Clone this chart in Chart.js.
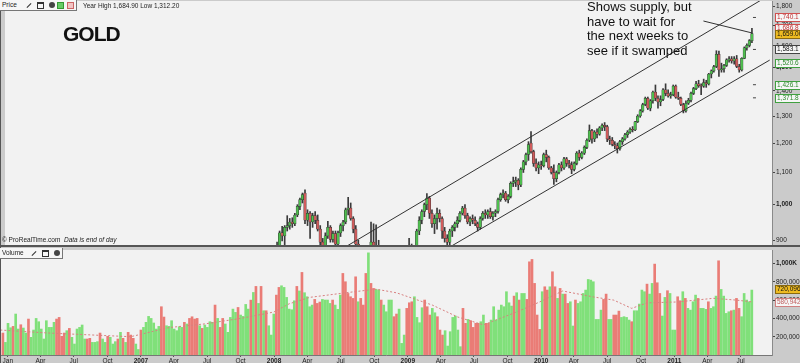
<!DOCTYPE html>
<html>
<head>
<meta charset="utf-8">
<script src="https://cdn.jsdelivr.net/npm/chart.js@4.4.0/dist/chart.umd.min.js"></script>
<style>
  body { margin: 0; background: #cbcbcb; }
  #wrap { position: relative; width: 800px; height: 363px; overflow: hidden; font-family: 'Liberation Sans', Arial, sans-serif; }
  canvas { position: absolute; left: 0; }
  .txt { position: absolute; white-space: nowrap; color: #222; z-index: 2; }
  .tool { position: absolute; left: 0; height: 10px; background: #f6f6f6; border-right: 1px solid #777; border-bottom: 1px solid #777; z-index: 2; }
  .tool span { position: absolute; top: 2px; }
  .ic-win { width: 5px; height: 4px; border: 1px solid #333; border-top-width: 2px; }
  .ic-x { width: 6px; height: 6px; border-radius: 3px; background: #444; }
  .ic-up { width: 5px; height: 5px; background: #6c6; border: 1px solid #393; }
  .ic-dn { width: 5px; height: 5px; background: #f2c4c4; border: 1px solid #c66; }
  .ic-wr { width: 6px; height: 1px; background: #333; transform: rotate(-45deg); top: 5px !important; }
</style>
</head>
<body>
<div id="wrap">
  <canvas id="vol" width="800" height="117" style="top:246px"></canvas>
  <canvas id="price" width="800" height="254" style="top:-4px"></canvas>

  <div class="tool" style="top:0;width:76px;">
    <span class="txt" style="left:2px;top:1px;font-size:6.5px;">Price</span>
    <span class="ic-wr" style="left:26px;"></span>
    <span class="ic-win" style="left:37px;"></span>
    <span class="ic-x" style="left:49px;"></span>
    <span class="ic-up" style="left:57px;"></span>
    <span class="ic-dn" style="left:67px;"></span>
  </div>
  <div class="txt" style="left:83px;top:2px;font-size:6.5px;">Year High 1,684.90 Low 1,312.20</div>
  <div class="txt" style="left:63px;top:22px;font-size:21px;font-weight:bold;letter-spacing:-1px;color:#111;">GOLD</div>
  <div class="txt" style="left:587px;top:0px;font-size:13px;line-height:14.5px;color:#111;">Shows supply, but<br>have to wait for<br>the next weeks to<br>see if it swamped</div>
  <div class="txt" style="left:2px;top:236px;font-size:6.5px;">© ProRealTime.com&nbsp;&nbsp;<i>Data is end of day</i></div>

  <div class="tool" style="top:248px;width:62px;">
    <span class="txt" style="left:2px;top:1px;font-size:6.5px;">Volume</span>
    <span class="ic-wr" style="left:31px;"></span>
    <span class="ic-win" style="left:42px;"></span>
    <span class="ic-x" style="left:54px;"></span>
  </div>
</div>

<script>
// weekly bars, index 0 = week of 19 Dec 2005, 293 = week of 1 Aug 2011
const qtrPos = [1.9, 14.7, 27.7, 40.9, 54.0, 66.9, 79.9, 93.0, 106.1, 119.1, 132.1, 145.3,
  158.4, 171.3, 184.3, 197.4, 210.6, 223.4, 236.4, 249.6, 262.7, 275.6, 288.6];
const qtrLabels = ['Jan', 'Apr', 'Jul', 'Oct', '2007', 'Apr', 'Jul', 'Oct', '2008', 'Apr', 'Jul', 'Oct',
  '2009', 'Apr', 'Jul', 'Oct', '2010', 'Apr', 'Jul', 'Oct', '2011', 'Apr', 'Jul'];

const priceTicks = [900, 1000, 1100, 1200, 1300, 1400, 1500, 1600, 1700, 1800];
const volTicks = [200, 400, 600, 800, 1000]; // thousands

// candles start at week 105
const candleStart = 105;
const opens = [
  812, 842, 885, 920, 912, 935, 940, 950, 945, 970,
  995, 1015, 1035, 955, 975, 950, 968, 955, 930, 895,
  880, 912, 935, 902, 918, 890, 920, 940, 950, 985,
  990, 960, 930, 890, 850, 800, 830, 810, 780, 895,
  880, 865, 830, 780, 730, 725, 740, 745, 800, 815,
  760, 825, 860, 870, 882, 855, 845, 925, 955, 980,
  1000, 1020, 975, 945, 960, 975, 960, 925, 905, 895,
  925, 935, 945, 955, 975, 990, 968, 950, 960, 955,
  945, 935, 960, 975, 970, 980, 965, 975, 980, 1015,
  1030, 1035, 1015, 1025, 1065, 1070, 1075, 1060, 1110, 1135,
  1160, 1200, 1170, 1130, 1115, 1125, 1122, 1160, 1150, 1115,
  1100, 1080, 1100, 1125, 1115, 1145, 1130, 1125, 1110, 1130,
  1165, 1150, 1165, 1185, 1210, 1245, 1215, 1240, 1232, 1255,
  1265, 1260, 1215, 1210, 1195, 1190, 1180, 1205, 1215, 1230,
  1240, 1250, 1248, 1278, 1300, 1320, 1345, 1370, 1330, 1360,
  1395, 1370, 1355, 1365, 1405, 1390, 1380, 1385, 1420, 1375,
  1370, 1345, 1320, 1350, 1362, 1390, 1410, 1430, 1422, 1420,
  1435, 1430, 1472, 1486, 1505, 1560, 1490, 1495, 1510, 1535,
  1540, 1530, 1540, 1505, 1490, 1542, 1590, 1602, 1625];
const highs = [
  845, 895, 925, 938, 940, 968, 960, 962, 975, 1000,
  1020, 1035, 1045, 985, 980, 975, 980, 970, 940, 905,
  920, 952, 940, 925, 925, 925, 945, 955, 990, 1022,
  1005, 965, 940, 900, 860, 840, 845, 825, 950, 945,
  942, 900, 845, 790, 760, 765, 760, 810, 825, 820,
  830, 880, 880, 905, 890, 870, 930, 965, 985, 1005,
  1033, 1025, 985, 970, 990, 985, 965, 935, 915, 930,
  940, 950, 965, 980, 995, 1000, 975, 965, 970, 965,
  950, 965, 980, 985, 985, 990, 980, 985, 1020, 1035,
  1045, 1040, 1030, 1070, 1085, 1085, 1080, 1115, 1140, 1165,
  1205, 1241, 1175, 1145, 1135, 1138, 1165, 1175, 1155, 1120,
  1125, 1105, 1130, 1135, 1150, 1150, 1140, 1135, 1135, 1170,
  1175, 1170, 1190, 1215, 1266, 1250, 1245, 1252, 1260, 1270,
  1275, 1265, 1225, 1220, 1205, 1200, 1210, 1220, 1235, 1245,
  1255, 1260, 1280, 1305, 1325, 1350, 1375, 1375, 1365, 1400,
  1425, 1380, 1380, 1410, 1430, 1405, 1395, 1425, 1425, 1395,
  1375, 1350, 1360, 1370, 1395, 1415, 1440, 1445, 1430, 1450,
  1445, 1475, 1490, 1510, 1577, 1575, 1520, 1515, 1540, 1550,
  1550, 1550, 1555, 1515, 1545, 1595, 1610, 1630, 1685];
const lows = [
  808, 836, 880, 898, 885, 925, 930, 935, 940, 965,
  985, 1005, 945, 940, 905, 935, 945, 925, 885, 860,
  875, 905, 895, 895, 880, 885, 910, 925, 945, 970,
  955, 920, 880, 840, 780, 790, 800, 760, 760, 870,
  855, 820, 760, 681, 700, 710, 705, 740, 770, 750,
  755, 820, 835, 860, 840, 805, 835, 915, 945, 965,
  985, 960, 935, 918, 930, 950, 905, 895, 885, 885,
  910, 925, 935, 950, 970, 960, 945, 940, 945, 940,
  925, 930, 955, 960, 960, 960, 955, 965, 975, 1010,
  1020, 1010, 1005, 1020, 1055, 1055, 1045, 1055, 1100, 1125,
  1140, 1165, 1120, 1105, 1096, 1110, 1118, 1135, 1110, 1095,
  1062, 1070, 1095, 1105, 1110, 1120, 1115, 1096, 1105, 1125,
  1140, 1145, 1160, 1180, 1205, 1200, 1205, 1218, 1228, 1245,
  1245, 1205, 1195, 1190, 1180, 1165, 1175, 1195, 1210, 1220,
  1235, 1240, 1245, 1275, 1295, 1315, 1340, 1325, 1320, 1350,
  1360, 1330, 1340, 1360, 1380, 1375, 1370, 1380, 1370, 1365,
  1340, 1312, 1315, 1345, 1355, 1385, 1405, 1415, 1385, 1415,
  1415, 1425, 1455, 1480, 1500, 1462, 1480, 1480, 1505, 1525,
  1520, 1515, 1500, 1480, 1485, 1540, 1580, 1595, 1615];
const closes = [
  842, 885, 920, 912, 935, 940, 950, 945, 970, 995,
  1015, 1030, 955, 975, 950, 968, 955, 930, 895, 880,
  912, 935, 902, 918, 890, 920, 940, 950, 985, 990,
  960, 930, 890, 850, 800, 830, 810, 770, 895, 880,
  865, 830, 780, 730, 725, 740, 745, 800, 815, 760,
  825, 860, 870, 882, 855, 840, 925, 955, 980, 1000,
  1020, 975, 945, 960, 975, 960, 925, 905, 895, 925,
  935, 945, 955, 975, 990, 968, 950, 960, 955, 945,
  935, 960, 975, 970, 980, 965, 975, 980, 1015, 1030,
  1035, 1015, 1025, 1065, 1070, 1075, 1060, 1110, 1135, 1160,
  1195, 1170, 1130, 1115, 1125, 1122, 1160, 1150, 1115, 1100,
  1080, 1100, 1125, 1115, 1145, 1130, 1125, 1110, 1130, 1165,
  1150, 1165, 1185, 1210, 1245, 1215, 1240, 1232, 1255, 1265,
  1260, 1215, 1210, 1195, 1190, 1180, 1205, 1215, 1230, 1240,
  1250, 1248, 1278, 1300, 1320, 1345, 1370, 1330, 1360, 1395,
  1370, 1355, 1365, 1405, 1390, 1380, 1385, 1420, 1375, 1370,
  1345, 1320, 1350, 1362, 1390, 1410, 1430, 1422, 1420, 1435,
  1430, 1472, 1486, 1505, 1560, 1490, 1495, 1510, 1535, 1540,
  1530, 1540, 1505, 1490, 1542, 1590, 1602, 1625, 1659];

// weekly volume in thousands, from week 0
const volK = [
  240, 138, 346, 298, 313, 448, 284, 331, 295, 240,
  393, 193, 273, 400, 364, 284, 175, 375, 302, 302,
  357, 393, 411, 204, 240, 266, 291, 193, 120, 284,
  302, 328, 175, 175, 182, 138, 138, 146, 240, 175,
  138, 204, 193, 120, 146, 175, 248, 182, 138, 248,
  218, 182, 120, 60, 273, 302, 357, 422, 400, 350,
  284, 313, 528, 415, 320, 313, 375, 284, 266, 309,
  302, 357, 339, 400, 418, 393, 400, 320, 291, 328,
  302, 364, 357, 546, 400, 302, 400, 339, 248, 411,
  502, 466, 520, 437, 422, 553, 502, 600, 684, 750,
  564, 750, 484, 484, 320, 218, 448, 655, 739, 757,
  739, 630, 502, 495, 593, 750, 700,
  903, 681, 637, 528, 546, 608, 564, 579, 608, 601,
  601, 564, 601, 546, 499, 655, 892, 801, 673, 637,
  619, 855, 582, 619, 546, 892, 1117, 783, 728, 717,
  710, 601, 546, 473, 601, 601, 419, 448, 502, 127,
  218, 510, 571, 582, 637, 411, 353, 517, 601, 528,
  437, 510, 462, 419, 273, 218, 266, 98, 255, 411,
  426, 273, 91, 510, 346, 389, 375, 302, 346, 346,
  364, 437, 346, 346, 382, 528, 382, 491, 546, 528,
  692, 571, 535, 644, 681, 601, 673, 673, 608, 1019,
  1045, 783, 437, 280, 692, 746, 710, 746, 910, 746,
  619, 728, 666, 666, 564, 582, 317, 601, 564, 582,
  673, 710, 826, 819, 801, 389, 389, 491, 608, 666,
  389, 389, 437, 437, 480, 411, 419, 411, 382, 364,
  484, 484, 557, 710, 692, 775, 666, 783, 994, 790,
  673, 426, 630, 703, 673, 273, 273, 637, 593, 692,
  619, 510, 491, 582, 655, 619, 510, 510, 499, 582,
  510, 528, 644, 1030, 717, 644, 455, 473, 484, 491,
  619, 510, 419, 673, 601, 582, 710];
// g = up week, r = down week
const volDir = (
  'rgggrggrgg' + 'rggggggggg' + 'grrrrgrggg' + 'gggrrgggrg' + 'grgggrgrgr' + 'rrggrggggg' +
  'ggrrgggggg' + 'grgrrrrgrg' + 'gggrgrrggg' + 'ggrggggrgr' + 'grgrgggrrg' + 'gggggrg' +
  'rggggrrrgg' + 'ggrgggrrrr' + 'rrgrrrgrrg' + 'grggggrrgg' + 'grrrggggrr' + 'rggrrrgggg' +
  'gggrrgrrrr' + 'ggrrgggggg' + 'gggrgrggrr' + 'rrrrgrrgrr' + 'grgrrggrgg' +
  'ggggggggrr' + 'ggrrrggggr' + 'gggggrggrr' + 'rggrgggrrg' + 'rggggrgggr' + 'gggrggggrg' +
  'rrggggg').split('');

// volume moving average (week, thousands)
const maWeek = [-1, 18, 38, 50, 65, 79, 93, 106, 112, 120, 134, 146, 154, 168,
  178, 188, 201, 210, 219, 231, 239, 246, 252, 264, 278, 287, 293];
const maK = [273, 240, 215, 200, 300, 340, 400, 470, 560, 630, 680, 720, 680, 546,
  415, 330, 470, 580, 700, 635, 600, 510, 570, 580, 620, 600, 581];

// hand drawn channel lines and pointer (week, price)
const upperWeek = [130, 300], upperPrice = [871, 1860];
const lowerWeek = [173.7, 300], lowerPrice = [881, 1534];
const pointerWeek = [273.9, 293.1], pointerPrice = [1722, 1662];

// axis value boxes
const priceMarks = [1740.1, 1686.8, 1659.0, 1583.1, 1520.6, 1426.1, 1371.8];
const priceMarkDigits = [1, 1, 2, 1, 1, 1, 1];
const pivotMarks = [1740.1, 1583.1, 1426.1, 1371.8];
const volMarks = [720.096, 580.942];

const FONT = "'Liberation Sans', Arial, sans-serif";
Chart.defaults.font.family = FONT;
Chart.defaults.animation = false;
Chart.defaults.plugins.legend.display = false;
Chart.defaults.plugins.tooltip.enabled = false;

const X_MIN = -1.135, X_MAX = 300.9;
const UP = '#4fbf4f', DOWN = '#d05c5c';
const VUP = '#80e07a', VDOWN = '#ea7c76';

const markStyle = [
  {fill: '#f6f6f6', stroke: '#d05050', color: '#c03030'},
  {fill: '#f6f6f6', stroke: '#d05050', color: '#c03030'},
  {fill: '#eebb22', stroke: '#8a6a10', color: '#111'},
  {fill: '#f6f6f6', stroke: '#444', color: '#111'},
  {fill: '#f6f6f6', stroke: '#40a040', color: '#2c8a2c'},
  {fill: '#f6f6f6', stroke: '#40a040', color: '#2c8a2c'},
  {fill: '#f6f6f6', stroke: '#40a040', color: '#2c8a2c'}
];
const volMarkStyle = [
  {fill: '#eebb22', stroke: '#8a6a10', color: '#111'},
  {fill: '#f6f6f6', stroke: '#d08080', color: '#c06060'}
];

const panelBg = {
  id: 'panelBg',
  beforeDraw(chart) {
    const {ctx, chartArea: a, width, height} = chart;
    ctx.save();
    ctx.fillStyle = '#cbcbcb';
    ctx.fillRect(0, 0, width, height);
    ctx.fillStyle = '#f2f2f2';
    ctx.fillRect(a.left, a.top, a.right - a.left, a.bottom - a.top);
    ctx.restore();
  }
};

function axisBoxes(values, texts, styles, order) {
  return {
    id: 'axisBoxes',
    afterDraw(chart) {
      const ctx = chart.ctx, sc = chart.scales.y, x0 = chart.chartArea.right + 3;
      ctx.save();
      ctx.font = '6.5px ' + FONT;
      ctx.textBaseline = 'middle';
      order.forEach(k => {
        const py = Math.round(sc.getPixelForValue(values[k]));
        const st = styles[k];
        ctx.fillStyle = st.fill;
        ctx.fillRect(x0, py - 4, 30, 9);
        ctx.strokeStyle = st.stroke;
        ctx.lineWidth = 1;
        ctx.strokeRect(x0 + 0.5, py - 3.5, 30, 8);
        ctx.fillStyle = st.color;
        ctx.fillText(texts[k], x0 + 2, py + 0.5);
      });
      ctx.restore();
    }
  };
}

function frame(bottomLine, topLine) {
  return {
    id: 'frame',
    afterDraw(chart) {
      const {ctx, chartArea: a, width, height} = chart;
      ctx.save();
      ctx.fillStyle = '#8a8a8a';
      ctx.fillRect(a.right, a.top, 1, a.bottom - a.top);
      ctx.fillStyle = '#555';
      ctx.fillRect(0, 0, 1, height);
      if (bottomLine) ctx.fillRect(0, a.bottom, width, 2);
      if (topLine) ctx.fillRect(0, 0, width, 1);
      ctx.restore();
    }
  };
}

function xAxis(show) {
  return {
    type: 'linear', min: X_MIN, max: X_MAX, offset: false, display: show,
    grid: {drawOnChartArea: false, tickLength: 2, tickColor: '#555', offset: false},
    border: {color: '#777'},
    afterBuildTicks: s => { s.ticks = qtrPos.map(v => ({value: v})); },
    afterFit: s => { s.height = show ? 8 : 0; s.paddingLeft = 0; s.paddingRight = 0; },
    ticks: {
      autoSkip: false, maxRotation: 0, padding: 0, color: '#222',
      callback: (v, k) => qtrLabels[k],
      font: c => ({size: 6.5, weight: /^\d/.test(qtrLabels[c.index] || '') ? 'bold' : 'normal'})
    }
  };
}

function line(weeks, values, opts) {
  return Object.assign({
    type: 'line',
    data: weeks.map((w, k) => ({x: w, y: values[k]})),
    borderColor: '#333', borderWidth: 1, pointRadius: 0, clip: 0, order: 0
  }, opts);
}

// ---- price panel
const wickData = lows.map((l, k) => ({x: candleStart + k, y: [l, highs[k]]}));
const bodyData = opens.map((o, k) => ({x: candleStart + k, y: [o, closes[k]]}));
const bodyColors = opens.map((o, k) => closes[k] >= o ? UP : DOWN);
const markTexts = priceMarks.map((v, k) => v.toLocaleString('en-US',
  {minimumFractionDigits: priceMarkDigits[k], maximumFractionDigits: priceMarkDigits[k]}));

new Chart(document.getElementById('price'), {
  type: 'bar',
  data: {
    datasets: [
      {data: wickData, backgroundColor: '#3a3a3a', barThickness: 1, grouped: false, order: 3, clip: 0},
      {data: bodyData, backgroundColor: bodyColors, borderColor: '#333', borderWidth: 0.5,
        borderSkipped: false, barThickness: 2.6, grouped: false, order: 2, clip: 0},
      line(upperWeek, upperPrice),
      line(lowerWeek, lowerPrice),
      line(pointerWeek, pointerPrice),
      {type: 'line', data: pivotMarks.map(v => ({x: 294, y: v})), showLine: false,
        pointStyle: 'line', pointRadius: 1.5, borderColor: '#444', borderWidth: 1, order: 0}
    ]
  },
  options: {
    responsive: false,
    layout: {padding: {top: 0, bottom: 2, left: 0, right: 0}},
    scales: {
      x: xAxis(false),
      y: {
        type: 'logarithmic', position: 'right', min: 887.5, max: 1827,
        afterBuildTicks: s => { s.ticks = priceTicks.map(v => ({value: v})); },
        afterFit: s => { s.width = 28; s.paddingTop = 0; s.paddingBottom = 0; },
        grid: {drawOnChartArea: false, tickLength: 3, tickColor: '#444'},
        border: {color: '#888'},
        ticks: {
          autoSkip: false, padding: 1, color: '#222',
          callback: v => v.toLocaleString('en-US'),
          font: c => ({size: 6.5, weight: c.tick && c.tick.value % 500 === 0 ? 'bold' : 'normal'})
        }
      }
    }
  },
  plugins: [panelBg, axisBoxes(priceMarks, markTexts, markStyle, [0, 1, 3, 4, 5, 6, 2]), frame(true, false)]
});

// ---- volume panel
const volTexts = volMarks.map(v => Math.round(v * 1000).toLocaleString('en-US'));

new Chart(document.getElementById('vol'), {
  type: 'bar',
  data: {
    datasets: [
      {data: volK.map((v, k) => ({x: k, y: v})), backgroundColor: volDir.map(d => d === 'g' ? VUP : VDOWN),
        barThickness: 2, grouped: false, order: 2, clip: 0},
      line(maWeek, maK, {borderColor: '#d88080', borderDash: [2, 2]})
    ]
  },
  options: {
    responsive: false,
    layout: {padding: {top: 2, bottom: 0, left: 0, right: 0}},
    scales: {
      x: xAxis(true),
      y: {
        type: 'linear', position: 'right', min: 0, max: 1170,
        afterBuildTicks: s => { s.ticks = volTicks.map(v => ({value: v})); },
        afterFit: s => { s.width = 28; s.paddingTop = 0; s.paddingBottom = 0; },
        grid: {drawOnChartArea: false, tickLength: 3, tickColor: '#444'},
        border: {color: '#888'},
        ticks: {
          autoSkip: false, padding: 1, color: '#222',
          callback: v => v >= 1000 ? (v / 1000).toFixed(0) + ',000K' : (v * 1000).toLocaleString('en-US'),
          font: c => ({size: 6.5, weight: c.tick && c.tick.value === 1000 ? 'bold' : 'normal'})
        }
      }
    }
  },
  plugins: [panelBg, axisBoxes(volMarks, volTexts, volMarkStyle, [1, 0]), frame(false, true)]
});
</script>
</body>
</html>
